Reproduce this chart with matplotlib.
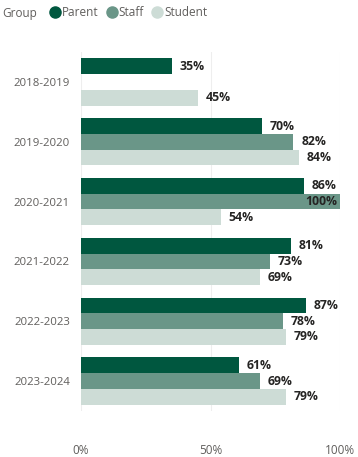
import numpy as np
import matplotlib
matplotlib.use("Agg")
import matplotlib.pyplot as plt
from matplotlib.lines import Line2D

years = ["2018-2019", "2019-2020", "2020-2021", "2021-2022", "2022-2023", "2023-2024"]
parent = [35, 70, 86, 81, 87, 61]
staff = [np.nan, 82, 100, 73, 78, 69]
student = [45, 84, 54, 69, 79, 79]
groups = ["Parent", "Staff", "Student"]
colors = ["#00573f", "#6a9688", "#cddcd6"]
xticks = [0, 50, 100]

plt.rcParams["font.family"] = ["Open Sans", "DejaVu Sans"]

fig = plt.figure(figsize=(3.58, 4.57), dpi=100)
ax = fig.add_axes([81 / 358, 1 - 411 / 457, (340 - 81) / 358, (411 - 52) / 457])

h = 0.263
y = np.arange(len(years))
series = [parent, staff, student]
for i, (vals, c) in enumerate(zip(series, colors)):
    pos = y + (i - 1) * h
    ax.barh(pos, vals, height=h, color=c, zorder=2)
    for p, v in zip(pos, vals):
        if np.isnan(v):
            continue
        if v >= 95:
            ax.text(v - 1, p, f"{v:.0f}%", ha="right", va="center",
                    fontsize=8.8, fontweight="bold", color="#252423", zorder=3)
        else:
            ax.text(v + 3, p, f"{v:.0f}%", ha="left", va="center",
                    fontsize=8.8, fontweight="bold", color="#252423", zorder=3)

ax.set_xlim(0, 100)
ax.set_ylim(len(years) - 0.5, -0.5)
ax.set_yticks(y)
ax.set_yticklabels(years, fontsize=8.2, color="#605e5c")
ax.set_xticks(xticks)
ax.set_xticklabels([f"{t}%" for t in xticks], fontsize=8.5, color="#605e5c")
ax.tick_params(axis="both", length=0)
ax.tick_params(axis="y", pad=8)
ax.tick_params(axis="x", pad=24)
ax.grid(axis="x", color="#eeeeee", linewidth=0.8, zorder=0)
for s in ax.spines.values():
    s.set_visible(False)

# legend row across the top
fig.text(2 / 358, 1 - 13 / 457, "Group", fontsize=8.5, color="#605e5c",
         va="center", ha="left")
handles = [Line2D([], [], marker="o", linestyle="", markersize=8, color=c)
           for c in colors]
fig.legend(handles, groups, loc="center left", bbox_to_anchor=(48 / 358, 1 - 13 / 457),
           ncol=3, frameon=False, fontsize=8.5, handletextpad=0.0,
           columnspacing=0.5, handlelength=1.2, borderpad=0, borderaxespad=0,
           labelcolor="#605e5c")

fig.savefig("out.png", dpi=100, facecolor="white")
